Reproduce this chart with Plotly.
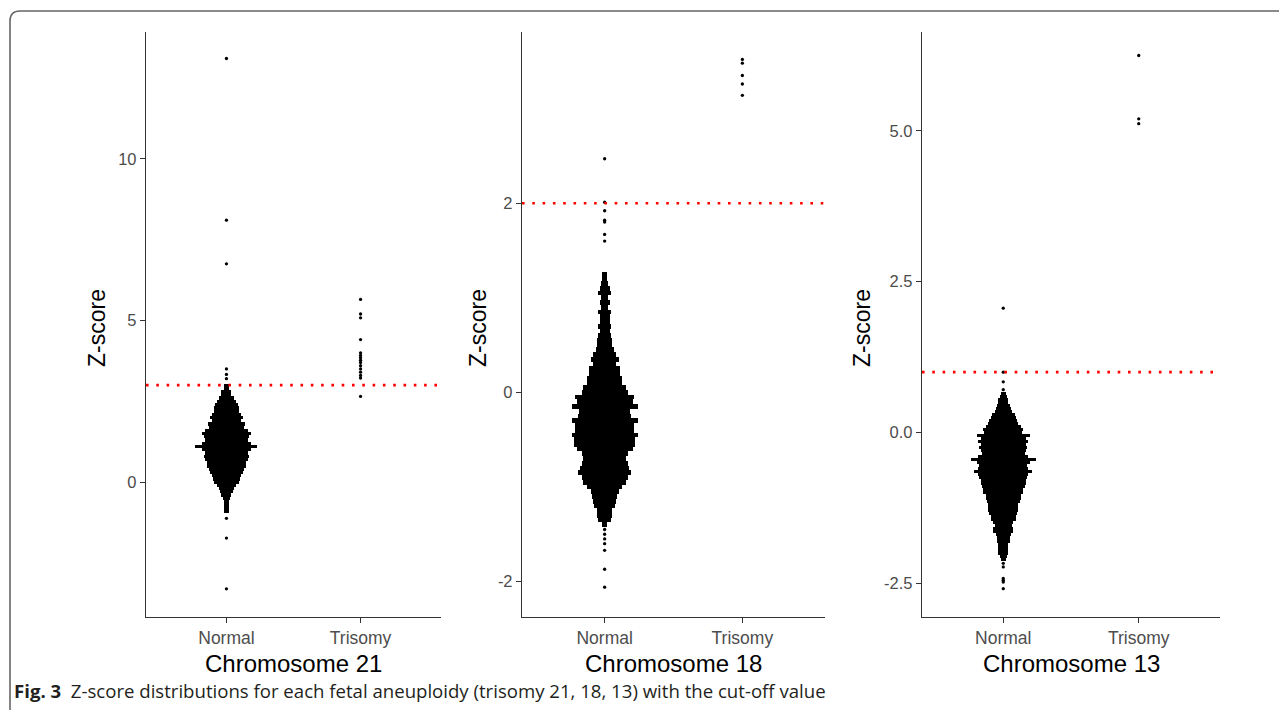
import plotly.graph_objects as go
from plotly.subplots import make_subplots

# The page body has an 8px margin, so the figure is drawn 8px smaller and
# every reference pixel position is shifted by that offset.
OFF = 8
W, H = 1287 - OFF, 710 - OFF


def px_x(p):
    return (p - OFF) / W


def px_y(p):
    return 1 - (p - OFF) / H


# ---------------- data ----------------
groups = ["Normal", "Trisomy"]
panel_titles = ["Chromosome 21", "Chromosome 18", "Chromosome 13"]
cutoffs = [3, 2, 1]

# Chromosome 21 - Normal: dense swarm binned (bin centre, number of samples in row)
chr21_bins = [3.0, 2.9, 2.8, 2.7, 2.6, 2.5, 2.4, 2.3, 2.2, 2.1, 2.0, 1.9, 1.8, 1.7, 1.6,
              1.5, 1.4, 1.3, 1.2, 1.1, 1.0, 0.9, 0.8, 0.7, 0.6, 0.5, 0.4, 0.3, 0.2, 0.1,
              0.0, -0.1, -0.2, -0.3, -0.4, -0.5, -0.6, -0.7, -0.8, -0.9]
chr21_counts = [2, 2, 4, 4, 6, 8, 9, 10, 10, 12, 13, 12, 15, 14, 17,
                20, 18, 17, 20, 25, 20, 17, 18, 17, 16, 16, 14, 13, 12, 11,
                10, 8, 6, 5, 4, 3, 2, 2, 2, 2]
chr21_normal_single = [13.1, 8.1, 6.75, 3.5, 3.33, 3.2, -1.12, -1.73, -3.3]
chr21_trisomy = [5.65, 5.2, 5.08, 4.41, 4.0, 3.92, 3.85, 3.77, 3.7, 3.6, 3.5, 3.4, 3.3, 3.22, 2.65]

# Chromosome 18
chr18_bins = [1.25, 1.20, 1.15, 1.10, 1.05, 1.00, 0.95, 0.90, 0.85, 0.80, 0.75, 0.70, 0.65,
              0.60, 0.55, 0.50, 0.45, 0.40, 0.35, 0.30, 0.25, 0.20, 0.15, 0.10, 0.05, 0.00,
              -0.05, -0.10, -0.15, -0.20, -0.25, -0.30, -0.35, -0.40, -0.45, -0.50, -0.55,
              -0.60, -0.65, -0.70, -0.75, -0.80, -0.85, -0.90, -0.95, -1.00, -1.05, -1.10,
              -1.15, -1.20, -1.25, -1.30, -1.35, -1.40]
chr18_counts = [2, 2, 3, 4, 5, 3, 4, 3, 5, 4, 4, 5, 4,
                5, 6, 6, 7, 9, 11, 9, 12, 12, 14, 14, 17, 18,
                23, 22, 26, 20, 21, 26, 23, 23, 26, 24, 24,
                22, 18, 17, 18, 19, 21, 18, 17, 14, 11, 10,
                9, 8, 6, 6, 5, 2]
chr18_normal_single = [2.47, 2.01, 1.92, 1.82, 1.80, 1.67, 1.60,
                       -1.45, -1.50, -1.55, -1.60, -1.67, -1.87, -2.06]
chr18_trisomy = [3.52, 3.48, 3.35, 3.26, 3.14]

# Chromosome 13
chr13_bins = [0.65, 0.60, 0.55, 0.50, 0.45, 0.40, 0.35, 0.30, 0.25, 0.20, 0.15, 0.10, 0.05,
              0.00, -0.05, -0.10, -0.15, -0.20, -0.25, -0.30, -0.35, -0.40, -0.45, -0.50,
              -0.55, -0.60, -0.65, -0.70, -0.75, -0.80, -0.85, -0.90, -0.95, -1.00, -1.05,
              -1.10, -1.15, -1.20, -1.25, -1.30, -1.35, -1.40, -1.45, -1.50, -1.55, -1.60,
              -1.65, -1.70, -1.75, -1.80, -1.85, -1.90, -1.95, -2.00, -2.05, -2.10]
chr13_counts = [2, 3, 4, 4, 5, 6, 7, 9, 10, 11, 12, 14, 16,
                15, 21, 18, 20, 18, 19, 18, 17, 20, 26, 21,
                19, 20, 23, 20, 19, 18, 18, 17, 16, 16, 14,
                14, 13, 12, 12, 12, 11, 10, 10, 8, 7, 8,
                8, 6, 5, 5, 4, 4, 4, 4, 3, 2]
chr13_normal_single = [2.06, 1.0, 0.84, 0.71, -2.17, -2.23, -2.42, -2.45, -2.48, -2.59]
chr13_trisomy = [6.25, 5.2, 5.12]

panels = [
    dict(bins=chr21_bins, counts=chr21_counts, step=0.1, single=chr21_normal_single,
         tri=chr21_trisomy, yrange=[-4.17, 13.92], tickvals=[0, 5, 10], ticktext=["0", "5", "10"]),
    dict(bins=chr18_bins, counts=chr18_counts, step=0.05, single=chr18_normal_single,
         tri=chr18_trisomy, yrange=[-2.375, 3.81], tickvals=[-2, 0, 2], ticktext=["-2", "0", "2"]),
    dict(bins=chr13_bins, counts=chr13_counts, step=0.05, single=chr13_normal_single,
         tri=chr13_trisomy, yrange=[-3.06, 6.64], tickvals=[-2.5, 0, 2.5, 5],
         ticktext=["-2.5", "0.0", "2.5", "5.0"]),
]

# ---------------- layout geometry (reference pixels) ----------------
x_dom_px = [(146, 441), (522, 825), (922, 1220)]
y_top_px, y_bot_px = 32, 617
ytitle_x_px = [97, 478, 862]
DOT_W = 0.0185          # horizontal width of one sample in a swarm row (x units)

fig = make_subplots(rows=1, cols=3)

tick_col = "#4D4D4D"
axis_col = "#333333"

for i, p in enumerate(panels):
    col = i + 1
    widths = [c * DOT_W for c in p["counts"]]
    bases = [1 - w / 2 for w in widths]
    fig.add_trace(go.Bar(orientation="h", y=p["bins"], x=widths, base=bases,
                         width=p["step"], marker=dict(color="black", line=dict(width=0)),
                         showlegend=False, hoverinfo="skip"), row=1, col=col)
    fig.add_trace(go.Scatter(x=[1] * len(p["single"]), y=p["single"], mode="markers",
                             marker=dict(color="black", size=3.3),
                             showlegend=False), row=1, col=col)
    fig.add_trace(go.Scatter(x=[2] * len(p["tri"]), y=p["tri"], mode="markers",
                             marker=dict(color="black", size=3.3),
                             showlegend=False), row=1, col=col)
    fig.add_hline(y=cutoffs[i], row=1, col=col,
                  line=dict(color="#FF0000", width=2.6, dash="2.6px,7.7px"))

    xd = [px_x(x_dom_px[i][0]), px_x(x_dom_px[i][1])]
    yd = [px_y(y_bot_px), px_y(y_top_px)]
    axis_common = dict(showline=True, linecolor=axis_col, linewidth=1.3, ticks="outside",
                       ticklen=5, tickwidth=1.2, tickcolor=axis_col, showgrid=False,
                       zeroline=False)
    fig.update_xaxes(domain=xd, range=[0.4, 2.6], tickvals=[1, 2], ticktext=groups,
                     tickfont=dict(family="Liberation Sans", size=17.5, color=tick_col),
                     fixedrange=True, row=1, col=col, **axis_common)
    fig.update_yaxes(domain=yd, range=p["yrange"], tickvals=p["tickvals"],
                     ticktext=p["ticktext"],
                     tickfont=dict(family="Liberation Sans", size=16.5, color=tick_col),
                     row=1, col=col, **axis_common)
    # axis titles
    fig.add_annotation(x=px_x((x_dom_px[i][0] + x_dom_px[i][1]) / 2), y=px_y(663),
                       xref="paper", yref="paper", text=panel_titles[i], showarrow=False,
                       font=dict(family="Liberation Sans", size=24, color="black"),
                       xanchor="center", yanchor="middle")
    fig.add_annotation(x=px_x(ytitle_x_px[i]), y=px_y(328), xref="paper", yref="paper",
                       text="Z-score", showarrow=False, textangle=-90,
                       font=dict(family="Liberation Sans", size=23, color="black"),
                       xanchor="center", yanchor="middle")

# caption
fig.add_annotation(x=px_x(12), y=px_y(690), xref="paper", yref="paper",
                   text="<b>Fig. 3</b>  Z-score distributions for each fetal aneuploidy "
                        "(trisomy 21, 18, 13) with the cut-off value",
                   showarrow=False, xanchor="left", yanchor="middle",
                   font=dict(family="Open Sans", size=18.6, color="#231F20"))

# frame (rounded top-left corner)
fx, fy, r = 10, 11, 10
path = (f"M 1.0,{px_y(fy)} L {px_x(fx + r)},{px_y(fy)} "
        f"Q {px_x(fx)},{px_y(fy)} {px_x(fx)},{px_y(fy + r)} L {px_x(fx)},0")
fig.add_shape(type="path", path=path, xref="paper", yref="paper",
              line=dict(color="#666666", width=1.6))

fig.update_layout(width=W, height=H, margin=dict(l=0, r=0, t=0, b=0),
                  paper_bgcolor="white", plot_bgcolor="white", barmode="overlay",
                  bargap=0, showlegend=False)

fig.write_html("out.html")
